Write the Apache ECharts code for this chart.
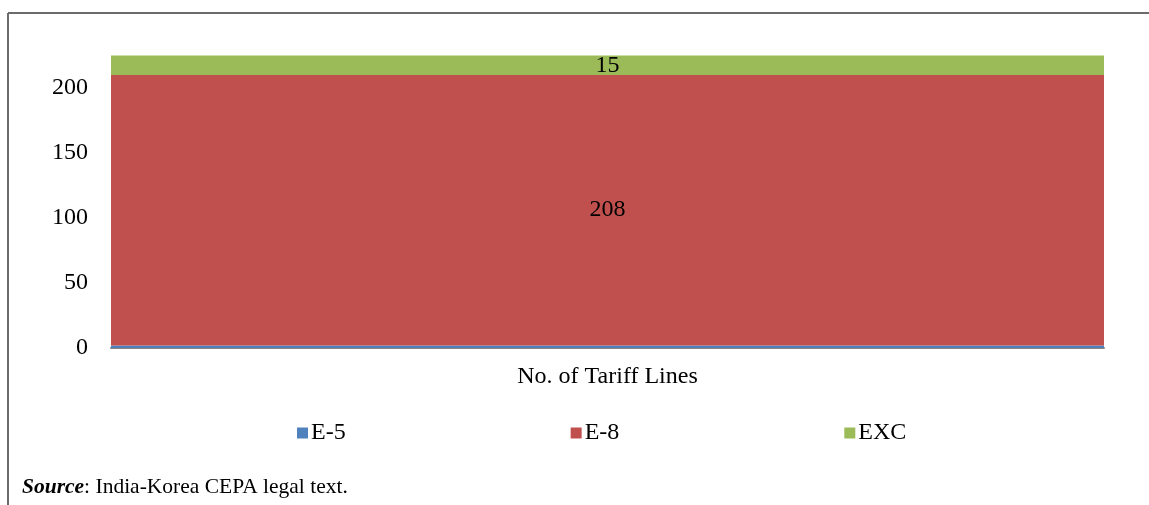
<!DOCTYPE html>
<html>
<head>
<meta charset="utf-8">
<script src="https://cdn.jsdelivr.net/npm/echarts@6/dist/echarts.min.js"></script>
<style>
  html, body { margin: 0; padding: 0; background: #fff; }
  #chart { width: 1149px; height: 505px; }
</style>
</head>
<body>
<div id="chart"></div>
<script>
// Tariff lines by staging category
const categories = ['No. of Tariff Lines'];
const seriesNames = ['E-5', 'E-8', 'EXC'];
const e5Values = [2];
const e8Values = [208];
const excValues = [15];
const yTicks = [0, 50, 100, 150, 200];

const colors = ['#4F81BD', '#C0504D', '#9BBB59'];
const serif = '"Liberation Serif", "DejaVu Serif", serif';
const fs = 24;

const chart = echarts.init(document.getElementById('chart'));

function barSeries(name, values, color, showLabel) {
  return {
    name: name,
    type: 'bar',
    stack: 'total',
    data: values,
    barWidth: '100%',
    itemStyle: { color: color },
    label: {
      show: showLabel,
      position: 'inside',
      color: '#000',
      fontFamily: serif,
      fontSize: fs
    }
  };
}

chart.setOption({
  animation: false,
  textStyle: { fontFamily: serif },
  grid: { left: 111, right: 45, top: 36, bottom: 157, containLabel: false },
  legend: {
    data: seriesNames,
    top: 421,
    left: 297,
    padding: 0,
    itemWidth: 11,
    itemHeight: 11,
    itemGap: 225,
    icon: 'rect',
    textStyle: { fontFamily: serif, fontSize: fs, color: '#000', padding: [0, 0, 0, -2] }
  },
  xAxis: {
    type: 'category',
    data: categories,
    axisLine: { lineStyle: { color: '#868686', width: 2 } },
    axisTick: { show: false },
    axisLabel: { color: '#000', fontSize: fs, fontFamily: serif, margin: 17 }
  },
  yAxis: {
    type: 'value',
    min: 0,
    max: 240,
    interval: 50,
    axisLine: { show: false },
    axisTick: { show: false },
    splitLine: { show: false },
    axisLabel: {
      color: '#000',
      fontSize: fs,
      fontFamily: serif,
      margin: 23,
      formatter: function (v) { return yTicks.indexOf(v) >= 0 ? String(v) : ''; }
    }
  },
  series: [
    barSeries(seriesNames[0], e5Values, colors[0], false),
    barSeries(seriesNames[1], e8Values, colors[1], true),
    barSeries(seriesNames[2], excValues, colors[2], true)
  ],
  graphic: [
    { type: 'line', shape: { x1: 8, y1: 13, x2: 8, y2: 505 }, style: { stroke: '#6b6b6b', lineWidth: 2 } },
    { type: 'line', shape: { x1: 8, y1: 13, x2: 1149, y2: 13 }, style: { stroke: '#6b6b6b', lineWidth: 2 } },
    {
      type: 'text',
      left: 22,
      top: 476,
      style: {
        text: '{b|Source}: India-Korea CEPA legal text.',
        fontFamily: serif,
        fontSize: 21.5,
        fill: '#000',
        rich: {
          b: { fontFamily: serif, fontSize: 21.5, fontStyle: 'italic', fontWeight: 'bold', fill: '#000' }
        }
      }
    }
  ]
});
</script>
</body>
</html>
